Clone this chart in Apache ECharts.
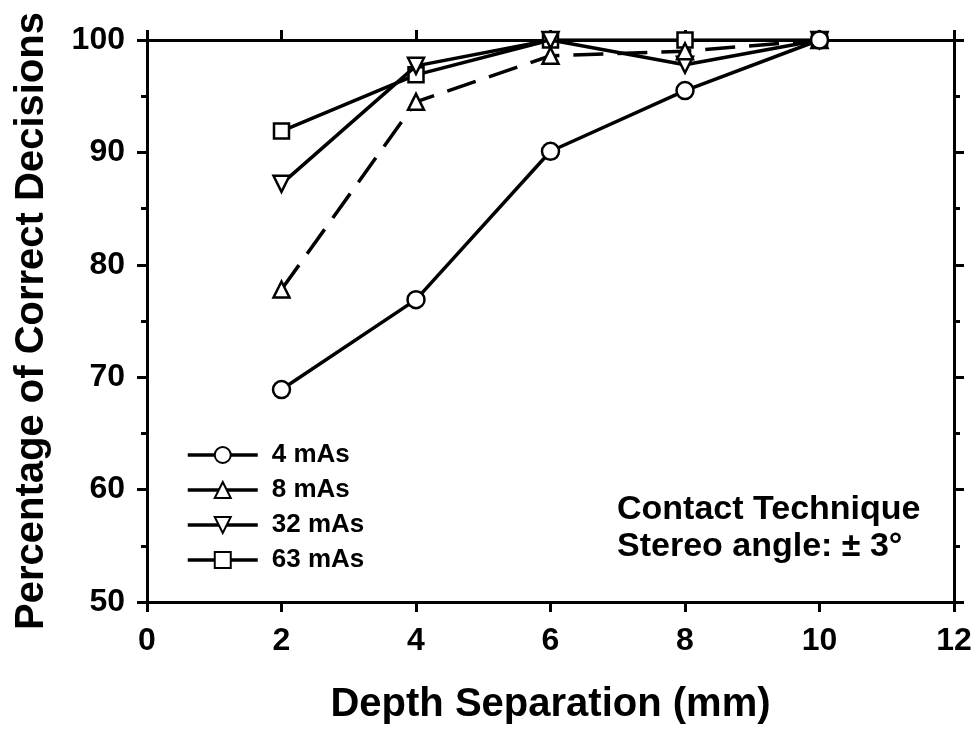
<!DOCTYPE html>
<html>
<head>
<meta charset="utf-8">
<script src="https://cdn.jsdelivr.net/npm/echarts@6/dist/echarts.min.js"></script>
<style>
html,body{margin:0;padding:0;background:#fff;}
#chart{width:977px;height:730px;}
</style>
</head>
<body>
<div id="chart"></div>
<script>
// ---- data ----
const depths = [2, 4, 6, 8, 10];
const seriesNames = ['4 mAs', '8 mAs', '32 mAs', '63 mAs'];
const values4 = [68.9, 76.9, 90.1, 95.5, 100];
const values8 = [77.8, 94.5, 98.6, 99.0, 100];
const values32 = [87.2, 97.7, 100, 97.8, 100];
const values63 = [91.9, 96.9, 100, 100, 100];
const xTicks = [0, 2, 4, 6, 8, 10, 12];
const yTicks = [50, 60, 70, 80, 90, 100];
const xTitle = 'Depth Separation (mm)';
const yTitle = 'Percentage of Correct Decisions';
const noteLine1 = 'Contact Technique';
const noteLine2 = 'Stereo angle: \u00b1 3\u00b0';

const FONT = '"Liberation Sans", Arial, Helvetica, sans-serif';
const chart = echarts.init(document.getElementById('chart'), null, {renderer: 'canvas'});

function pairs(vals) { return depths.map((d, i) => [d, vals[i]]); }

const downTri = 'path://M0,0L20,0L10,17.3Z';
const symbols = ['circle', 'triangle', downTri, 'rect'];
const symSizes = [17, 16, 16, 15];
const valueSets = [values4, values8, values32, values63];

const series = seriesNames.map((name, i) => ({
  name: name,
  type: 'line',
  data: pairs(valueSets[i]),
  symbol: symbols[i],
  symbolSize: symSizes[i],
  showAllSymbol: true,
  z: 10 - i,
  lineStyle: {color: '#000', width: 3.5, type: i === 1 ? [30, 14] : 'solid'},
  itemStyle: {color: '#fff', borderColor: '#000', borderWidth: 2.5},
  emphasis: {disabled: true},
  animation: false
}));

const axisLine = {show: true, onZero: false, lineStyle: {color: '#000', width: 3}};

chart.setOption({
  backgroundColor: '#fff',
  animation: false,
  grid: {left: 147, right: 23, top: 40, bottom: 125},
  legend: {
    data: seriesNames,
    orient: 'vertical',
    left: 181,
    top: 437,
    itemWidth: 70,
    itemHeight: 20,
    itemGap: 9,
    selectedMode: false,
    lineStyle: {type: 'solid', width: 3.5, color: '#000'},
    textStyle: {fontFamily: FONT, fontWeight: 'bold', fontSize: 26, color: '#000', padding: [0, 0, 0, 9]}
  },
  xAxis: [{
    type: 'value', min: 0, max: 12, interval: 2, position: 'bottom',
    name: xTitle, nameLocation: 'middle', nameGap: 83,
    nameTextStyle: {fontFamily: FONT, fontWeight: 'bold', fontSize: 40, color: '#000'},
    axisLine: axisLine,
    axisTick: {show: true, inside: false, length: 10, lineStyle: {color: '#000', width: 3}},
    axisLabel: {margin: 23, fontFamily: FONT, fontWeight: 'bold', fontSize: 32, color: '#000',
      formatter: v => xTicks.indexOf(v) >= 0 ? String(v) : ''},
    splitLine: {show: false}
  }, {
    type: 'value', min: 0, max: 12, interval: 2, position: 'top',
    axisLine: axisLine,
    axisTick: {show: true, inside: false, length: 10, lineStyle: {color: '#000', width: 3}},
    axisLabel: {show: false},
    splitLine: {show: false}
  }],
  yAxis: [{
    type: 'value', min: 50, max: 100, interval: 10, position: 'left',
    name: yTitle, nameLocation: 'middle', nameGap: 95,
    nameTextStyle: {fontFamily: FONT, fontWeight: 'bold', fontSize: 40, color: '#000'},
    axisLine: axisLine,
    axisTick: {show: true, inside: false, length: 10, lineStyle: {color: '#000', width: 3}},
    minorTick: {show: true, splitNumber: 2, length: 6, lineStyle: {color: '#000', width: 3}},
    axisLabel: {margin: 22, fontFamily: FONT, fontWeight: 'bold', fontSize: 32, color: '#000',
      formatter: v => yTicks.indexOf(v) >= 0 ? String(v) : ''},
    splitLine: {show: false}
  }, {
    type: 'value', min: 50, max: 100, interval: 10, position: 'right',
    axisLine: axisLine,
    axisTick: {show: true, inside: false, length: 10, lineStyle: {color: '#000', width: 3}},
    minorTick: {show: true, splitNumber: 2, length: 6, lineStyle: {color: '#000', width: 3}},
    axisLabel: {show: false},
    splitLine: {show: false}
  }],
  graphic: [{
    type: 'text', left: 617, top: 493, z: 20,
    style: {text: noteLine1, fontFamily: FONT, fontWeight: 'bold', fontSize: 34, fill: '#000'}
  }, {
    type: 'text', left: 617, top: 530, z: 20,
    style: {text: noteLine2, fontFamily: FONT, fontWeight: 'bold', fontSize: 34, fill: '#000'}
  }],
  series: series
});
</script>
</body>
</html>
